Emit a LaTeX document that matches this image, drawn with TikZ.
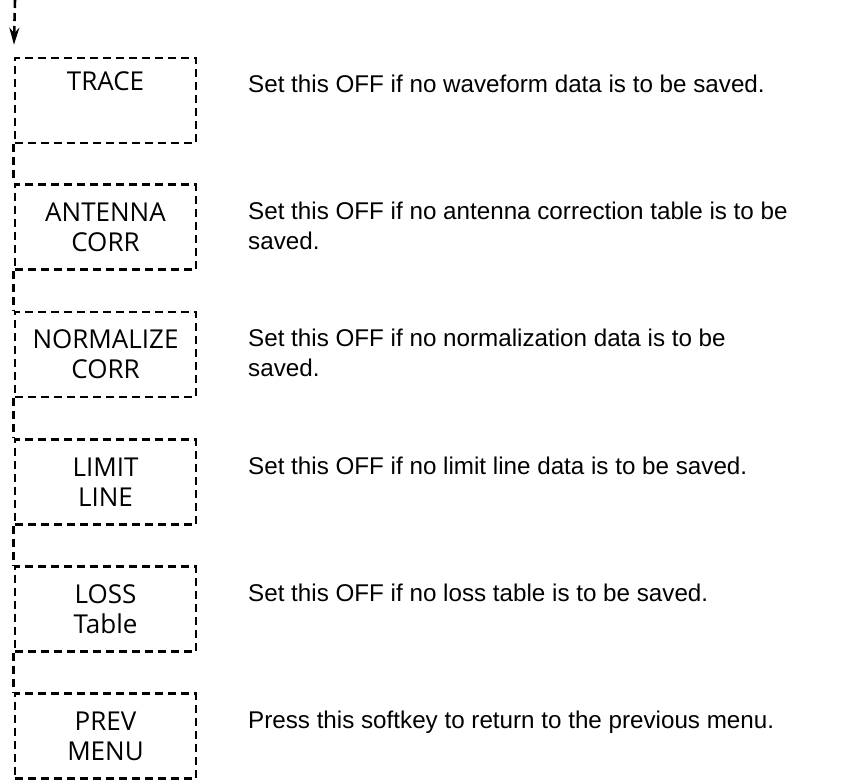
\documentclass[tikz,border=0pt]{standalone}
\usepackage{fontspec}
\setmainfont{Liberation Sans}
\newfontfamily\keyfont{Open Sans}
\usetikzlibrary{arrows.meta}
\begin{document}
\begin{tikzpicture}[x=1pt,y=-1pt,
  dline/.style={line width=2.6pt,dash pattern=on 8pt off 5pt},
  keybox/.style={draw,dline,minimum width=181pt,minimum height=85pt,inner sep=0pt,
    align=center,font=\keyfont\fontsize{26}{30}\selectfont},
  desc/.style={anchor=west,align=left,inner sep=0pt,
    font=\fontsize{24.2}{30}\selectfont}]
\useasboundingbox (0,0) rectangle (858,780);
\coordinate (top) at (15,0);
\node[keybox] (b1) at (105.5,100.5) {TRACE\\[0pt]\strut};
\node[keybox] (b2) at (105.5,227) {ANTENNA\\CORR};
\node[keybox] (b3) at (105.5,354.5) {NORMALIZE\\CORR};
\node[keybox] (b4) at (105.5,482) {LIMIT\\LINE};
\node[keybox] (b5) at (105.5,609) {LOSS\\Table};
\node[keybox] (b6) at (105.5,736) {PREV\\MENU};
\draw[dline,-{Stealth[length=17pt,width=10pt]},shorten >=12pt] (top) -- (b1.north west);
\foreach \a/\b in {b1/b2,b2/b3,b3/b4,b4/b5,b5/b6}
  \draw[dline] (\a.south west) -- (\b.north west);
\node[desc] (d1) at (248,84) {Set this OFF if no waveform data is to be saved.};
\node[desc] (d2) at (248,226) {Set this OFF if no antenna correction table is to be\\saved.};
\node[desc] (d3) at (248,353) {Set this OFF if no normalization data is to be\\saved.};
\node[desc] (d4) at (248,466) {Set this OFF if no limit line data is to be saved.};
\node[desc] (d5) at (248,593) {Set this OFF if no loss table is to be saved.};
\node[desc] (d6) at (248,722) {Press this softkey to return to the previous menu.};
\end{tikzpicture}
\end{document}
